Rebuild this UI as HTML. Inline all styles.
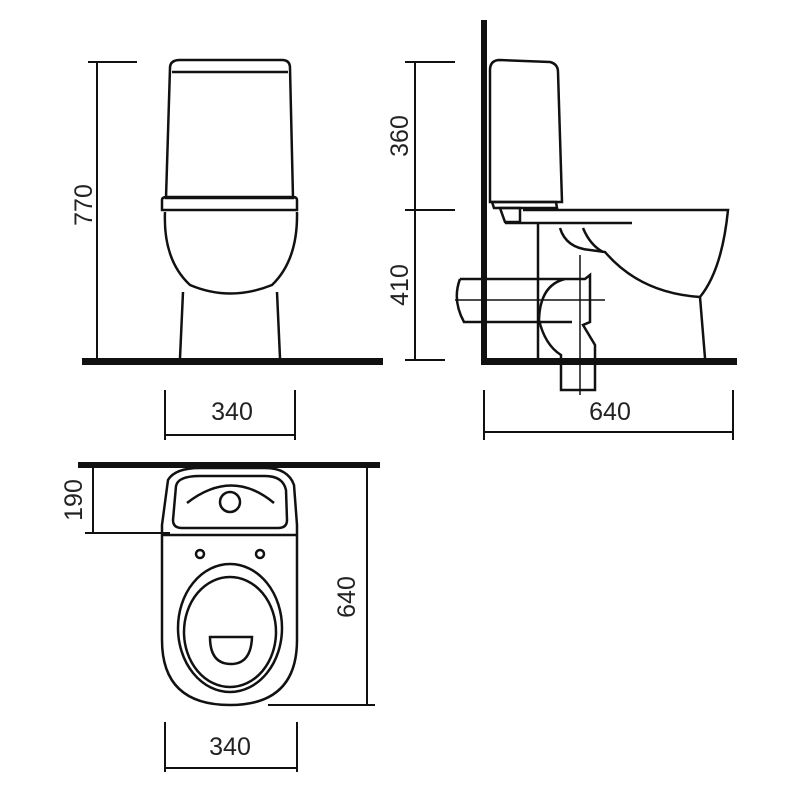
<!DOCTYPE html>
<html><head><style>body{margin:0;background:#fff}svg{display:block}text{font-family:"Liberation Sans",sans-serif;font-size:25px;fill:#222;stroke:none}</style></head><body>
<svg width="800" height="800" viewBox="0 0 800 800" fill="none" stroke="#111" stroke-width="2.5">
<!-- FRONT VIEW -->
<rect x="82" y="358" width="301" height="7" fill="#111" stroke="none"/>
<path d="M170 68 Q170 60 180 60 L282 60 Q290 60 290 68 L293 198 L166 198 Z"/>
<path d="M172 72 L288 72"/>
<path d="M162 200 Q162 197 167 197 L293 197 Q297 197 297 200 L297 210 L162 210 Z"/>
<path d="M165 212 Q163 260 190 285 Q230 302 272 285 Q298 260 297 212"/>
<path d="M183 292 L180 358 M277 292 L280 358"/>
<!-- 770 -->
<path d="M97 62 V360 M88 62 H137 M88 360 H97" stroke-width="2"/>
<text transform="translate(92,205) rotate(-90)" text-anchor="middle">770</text>
<!-- 340 -->
<path d="M165 390 V440 M295 390 V440 M165 435 H295" stroke-width="2"/>
<text x="232" y="420" text-anchor="middle">340</text>
<!-- SIDE VIEW -->
<rect x="481" y="20" width="6" height="343" fill="#111" stroke="none"/>
<rect x="481" y="358" width="256" height="7" fill="#111" stroke="none"/>
<path d="M490 70 Q490 60 500 60 L550 62 Q558 64 558 72 L562 202 L490 202 Z"/>
<path d="M492 202 L556 202 L557 208 L494 208 Z"/>
<path d="M500 208 L520 208 L520 222 L505 222 Z"/>
<path d="M523 210 L728 210 Q722 270 700 297 L705 358"/>
<path d="M505 223 L632 223"/>
<path d="M538 223 V358"/>
<path d="M560 228 Q566 248 590 250 L605 252 Q640 293 700 297"/>
<path d="M583 228 Q590 245 603 252"/>
<path d="M460 279 L585 279 L590 275 L590 322 L583 325 L595 345 L595 390 L561 390 L561 355 Q545 345 539 320 Q540 285 565 279"/>
<path d="M460 279 Q452 300 464 322 L572 322"/>
<path d="M455 300 H605 M580 255 V395" stroke-width="1.5"/>
<!-- 360/410 -->
<path d="M415 62 V360 M405 62 H455 M405 210 H455 M405 360 H445" stroke-width="2"/>
<text transform="translate(408,136) rotate(-90)" text-anchor="middle">360</text>
<text transform="translate(408,285) rotate(-90)" text-anchor="middle">410</text>
<!-- 640 -->
<path d="M484 390 V440 M733 390 V440 M484 432 H733" stroke-width="2"/>
<text x="610" y="420" text-anchor="middle">640</text>
<!-- TOP VIEW -->
<rect x="78" y="462" width="302" height="6" fill="#111" stroke="none"/>
<path d="M168 480 Q175 468 200 468 L265 468 Q288 468 294 485 L297 525 L297 640 Q297 705 230 705 Q162 705 162 640 L162 525 Z"/>
<path d="M176 486 Q178 476 200 476 L265 476 Q283 476 286 490 L287 520 Q287 528 278 528 L182 528 Q173 528 173 520 Z"/>
<path d="M162 535 H297"/>
<path d="M187 503 Q232 468 274 503"/>
<circle cx="230" cy="502" r="10"/>
<circle cx="200" cy="554" r="4"/><circle cx="260" cy="554" r="4"/>
<ellipse cx="230" cy="628" rx="52" ry="64"/>
<ellipse cx="230" cy="632" rx="46" ry="55"/>
<path d="M210 637 H252 Q251 664 231 664 Q210 664 210 637 Z"/>
<!-- 190 -->
<path d="M93 468 V533 M85 533 H170" stroke-width="2"/>
<text transform="translate(82,500) rotate(-90)" text-anchor="middle">190</text>
<!-- 640 -->
<path d="M367 468 V705 M268 705 H375" stroke-width="2"/>
<text transform="translate(355,597) rotate(-90)" text-anchor="middle">640</text>
<!-- 340 -->
<path d="M165 722 V772 M297 722 V772 M165 768 H297" stroke-width="2"/>
<text x="230" y="755" text-anchor="middle">340</text>
</svg>
</body></html>
